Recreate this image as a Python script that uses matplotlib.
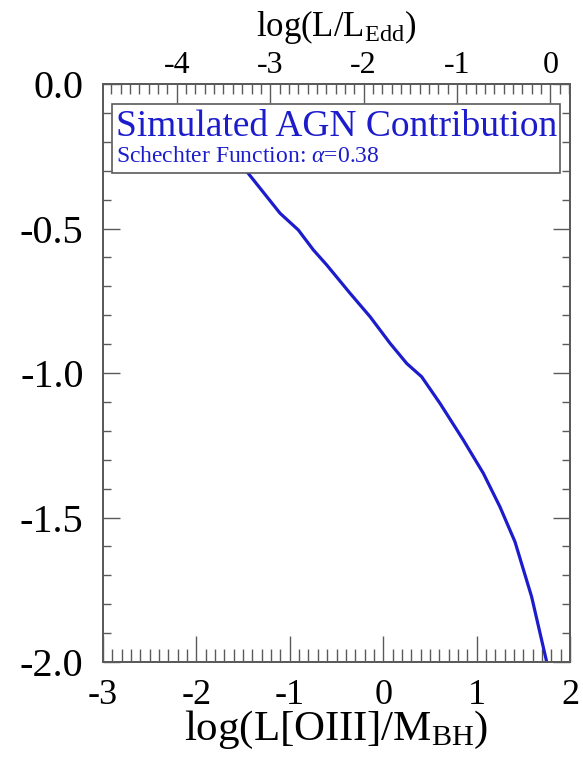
import numpy as np
import matplotlib
matplotlib.use("Agg")
import matplotlib.pyplot as plt
from matplotlib.ticker import MultipleLocator, FormatStrFormatter
from matplotlib.patches import Rectangle

plt.rcParams['font.family'] = ['Liberation Serif', 'DejaVu Serif']
plt.rcParams['mathtext.fontset'] = 'custom'
plt.rcParams['mathtext.rm'] = 'Liberation Serif'
plt.rcParams['mathtext.it'] = 'Liberation Serif:italic'
plt.rcParams['axes.unicode_minus'] = False

# simulated AGN contribution curve
log_oiii_mbh = [-1.90, -1.46, -1.105, -0.909, -0.748, -0.605, -0.355, -0.141,
                0.073, 0.252, 0.412, 0.608, 0.858, 1.072, 1.25, 1.411, 1.589, 1.75]
log_frac = [-0.12, -0.303, -0.447, -0.505, -0.574, -0.626, -0.724, -0.805,
            -0.897, -0.967, -1.013, -1.105, -1.232, -1.347, -1.463, -1.584, -1.774, -1.999]

# top axis offset: log(L/LEdd) = log(L[OIII]/MBH) - shift
shift = 1.79

spine_col = '#5a5a5a'
blue = '#1c1ccc'

fig = plt.figure(figsize=(5.83, 7.64), dpi=100)
ax = fig.add_axes([0.1767, 0.1335, 0.801, 0.7565])

ax.plot(log_oiii_mbh, log_frac, color=blue, lw=2.3, zorder=2)

ax.set_xlim(-3, 2)
ax.set_ylim(-2.0, 0.0)

ax.xaxis.set_major_locator(MultipleLocator(1))
ax.xaxis.set_minor_locator(MultipleLocator(0.1))
ax.yaxis.set_major_locator(MultipleLocator(0.5))
ax.yaxis.set_minor_locator(MultipleLocator(0.1))
ax.yaxis.set_major_formatter(FormatStrFormatter('%.1f'))

ax.tick_params(axis='x', which='major', direction='in', length=19, width=1.0,
               color=spine_col, labelsize=26, pad=12, top=False)
ax.tick_params(axis='x', which='minor', direction='in', length=9.5, width=1.0,
               color=spine_col, top=False)
ax.tick_params(axis='y', which='major', direction='in', length=12, width=1.0,
               color=spine_col, labelsize=29, pad=14, right=True)
ax.tick_params(axis='y', which='minor', direction='in', length=6, width=1.0,
               color=spine_col, right=True)

for s in ax.spines.values():
    s.set_color(spine_col)
    s.set_linewidth(1.3)

ax.set_xlabel(r'log(L[OIII]/M$_{\rm BH}$)', fontsize=31, labelpad=-2)

# Eddington ratio axis along the top
top = ax.twiny()
top.set_xlim(-3 - shift, 2 - shift)
top.xaxis.set_major_locator(MultipleLocator(1))
top.xaxis.set_minor_locator(MultipleLocator(0.1))
top.tick_params(which='major', direction='in', length=14, width=1.0,
                color=spine_col, labelsize=23, pad=3)
top.tick_params(which='minor', direction='in', length=7, width=1.0, color=spine_col)
for s in top.spines.values():
    s.set_color(spine_col)
    s.set_linewidth(1.3)
top.set_xlabel(r'log(L/L$_{\rm Edd}$)', fontsize=25, labelpad=11)

# legend box
ax.add_patch(Rectangle((0.019, 0.846), 0.96, 0.1194, transform=ax.transAxes,
                       fc='white', ec=spine_col, lw=1.2, zorder=5))
ax.text(0.027, 0.910, 'Simulated AGN Contribution', transform=ax.transAxes,
        fontsize=27, color=blue, va='baseline', ha='left', zorder=6)
ax.text(0.028, 0.865, r'Schechter Function: $\alpha$=0.38', transform=ax.transAxes,
        fontsize=17, color=blue, va='baseline', ha='left', zorder=6)

fig.savefig('out.png', dpi=100)
